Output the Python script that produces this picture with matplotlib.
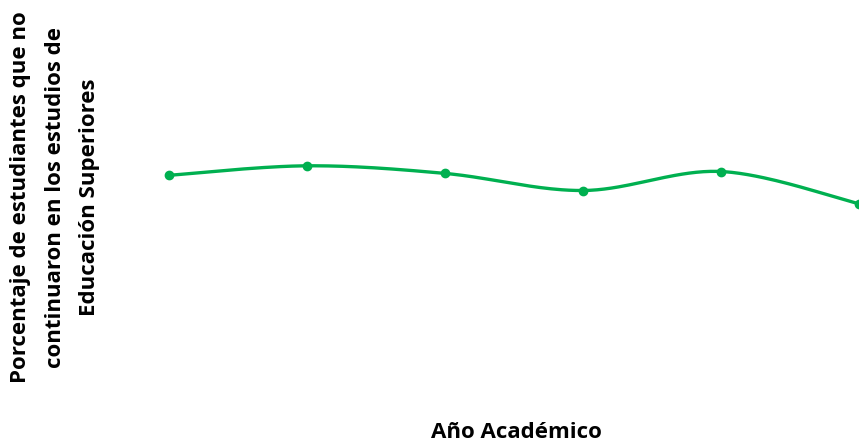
import numpy as np
import matplotlib
matplotlib.use("Agg")
import matplotlib.pyplot as plt

# Dropout share per academic year (no axis scale is shown on the chart)
years = ["2014-2015", "2015-2016", "2016-2017", "2017-2018", "2018-2019", "2019-2020"]
dropout = [11.3, 11.8, 11.4, 10.5, 11.5, 9.8]

GREEN = "#00B050"


def smooth(xs, ys, steps=40):
    """Cubic Bezier through every point, like a spreadsheet 'smoothed line'."""
    p = np.column_stack([xs, ys]).astype(float)
    pad = np.vstack([p[0], p, p[-1]])
    out = []
    for i in range(len(p) - 1):
        p0, p1, p2, p3 = pad[i], pad[i + 1], pad[i + 2], pad[i + 3]
        c1 = p1 + (p2 - p0) / 6
        c2 = p2 - (p3 - p1) / 6
        t = np.linspace(0, 1, steps)[:, None]
        seg = ((1 - t) ** 3) * p1 + 3 * ((1 - t) ** 2) * t * c1 + 3 * (1 - t) * t ** 2 * c2 + t ** 3 * p2
        out.append(seg if i == 0 else seg[1:])
    seg = np.vstack(out)
    return seg[:, 0], seg[:, 1]


fig = plt.figure(figsize=(8.59, 4.43), dpi=100)
ax = fig.add_axes([120 / 859, 1 - 390 / 443, 1 - 120 / 859, 380 / 443])

x = np.arange(len(years))
sx, sy = smooth(x, dropout)
ax.plot(sx, sy, color=GREEN, linewidth=2.4, solid_capstyle="round")
ax.plot(x, dropout, "o", color=GREEN, markersize=6)

ax.set_xlim(-0.355, 5.0)
ax.set_ylim(0, 20)
ax.set_xticks([])
ax.set_yticks([])
for s in ax.spines.values():
    s.set_visible(False)

font = dict(family="Open Sans", fontweight="bold", fontsize=16, color="black")
ylines = ["Porcentaje de estudiantes que no",
          "continuaron en los estudios de",
          "Educación Superiores"]
for i, line in enumerate(ylines):
    fig.text((21 + 34.5 * i) / 859, 1 - 197 / 443, line, rotation=90,
             ha="center", va="center", **font)

fig.text(516 / 859, 1 - 432 / 443, "Año Académico", ha="center", va="center", **font)

fig.savefig("out.png", dpi=100)
